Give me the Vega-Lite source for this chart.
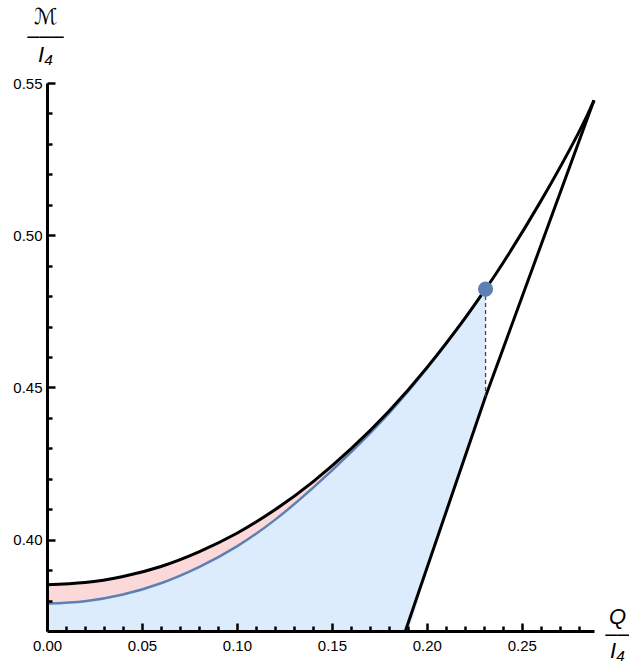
{
  "$schema": "https://vega.github.io/schema/vega-lite/v6.json",
  "width": 547,
  "height": 548,
  "autosize": {"type": "none"},
  "padding": {"left": 47, "top": 83, "right": 35, "bottom": 32},
  "background": "white",
  "config": {"view": {"stroke": null}},
  "datasets": {
    "bluefill": [
      {"x": 0, "y": 0.379, "y2": 0.37},
      {"x": 0.02, "y": 0.3798, "y2": 0.37},
      {"x": 0.04, "y": 0.382, "y2": 0.37},
      {"x": 0.06, "y": 0.3857, "y2": 0.37},
      {"x": 0.08, "y": 0.391, "y2": 0.37},
      {"x": 0.1, "y": 0.3978, "y2": 0.37},
      {"x": 0.12, "y": 0.4065, "y2": 0.37},
      {"x": 0.14, "y": 0.417, "y2": 0.37},
      {"x": 0.16, "y": 0.4287, "y2": 0.37},
      {"x": 0.18, "y": 0.4415, "y2": 0.37},
      {"x": 0.1887, "y": 0.4479, "y2": 0.37},
      {"x": 0.2, "y": 0.4562, "y2": 0.3906},
      {"x": 0.22, "y": 0.4726, "y2": 0.4271},
      {"x": 0.2309, "y": 0.4823, "y2": 0.447}
    ],
    "pink": [
      {"x": 0, "y": 0.379, "y2": 0.3852},
      {"x": 0.02, "y": 0.3798, "y2": 0.3859},
      {"x": 0.04, "y": 0.382, "y2": 0.3879},
      {"x": 0.06, "y": 0.3857, "y2": 0.3912},
      {"x": 0.08, "y": 0.391, "y2": 0.396},
      {"x": 0.1, "y": 0.3978, "y2": 0.4021},
      {"x": 0.12, "y": 0.4065, "y2": 0.4098},
      {"x": 0.14, "y": 0.417, "y2": 0.419},
      {"x": 0.16, "y": 0.4287, "y2": 0.4298},
      {"x": 0.18, "y": 0.4415, "y2": 0.4422},
      {"x": 0.2, "y": 0.4562, "y2": 0.4565},
      {"x": 0.22, "y": 0.4726, "y2": 0.4727}
    ],
    "lower": [
      {"x": 0, "y": 0.379},
      {"x": 0.02, "y": 0.3798},
      {"x": 0.04, "y": 0.382},
      {"x": 0.06, "y": 0.3857},
      {"x": 0.08, "y": 0.391},
      {"x": 0.1, "y": 0.3978},
      {"x": 0.12, "y": 0.4065},
      {"x": 0.14, "y": 0.417},
      {"x": 0.16, "y": 0.4287},
      {"x": 0.18, "y": 0.4415},
      {"x": 0.2, "y": 0.4562},
      {"x": 0.22, "y": 0.4726},
      {"x": 0.2309, "y": 0.4823}
    ],
    "upper": [
      {"x": 0, "y": 0.3852},
      {"x": 0.02, "y": 0.3859},
      {"x": 0.04, "y": 0.3879},
      {"x": 0.06, "y": 0.3912},
      {"x": 0.08, "y": 0.396},
      {"x": 0.1, "y": 0.4021},
      {"x": 0.12, "y": 0.4098},
      {"x": 0.14, "y": 0.419},
      {"x": 0.16, "y": 0.4298},
      {"x": 0.18, "y": 0.4422},
      {"x": 0.2, "y": 0.4565},
      {"x": 0.22, "y": 0.4727},
      {"x": 0.2309, "y": 0.4823},
      {"x": 0.24, "y": 0.4908},
      {"x": 0.26, "y": 0.5112},
      {"x": 0.28, "y": 0.5338},
      {"x": 0.288, "y": 0.5443}
    ],
    "right": [
      {"x": 0.1887, "y": 0.37},
      {"x": 0.2309, "y": 0.447},
      {"x": 0.288, "y": 0.5443}
    ],
    "dot": [
      {"x": 0.2309, "y": 0.4823, "y2": 0.447}
    ]
  },
  "encoding": {
    "x": {
      "field": "x",
      "type": "quantitative",
      "scale": {"domain": [0, 0.288], "nice": false, "zero": false},
      "axis": {
        "zindex": 1,
        "grid": false,
        "values": [0, 0.01, 0.02, 0.03, 0.04, 0.05, 0.06, 0.07, 0.08, 0.09, 0.1, 0.11, 0.12, 0.13, 0.14, 0.15, 0.16, 0.17, 0.18, 0.19, 0.2, 0.21, 0.22, 0.23, 0.24, 0.25, 0.26, 0.27, 0.28],
        "domainColor": "black",
        "domainWidth": 3,
        "tickColor": "black",
        "tickWidth": 2.5,
        "tickSize": {"condition": {"test": "round(datum.value*100) % 5 === 0", "value": -8}, "value": -5},
        "labelExpr": "round(datum.value*100) % 5 === 0 ? format(datum.value, '.2f') : ''",
        "labelFont": "Liberation Sans",
        "labelFontSize": 15,
        "labelColor": "black",
        "labelPadding": 15,
        "labelFlush": false,
        "labelOverlap": false,
        "title": ["Q", "––", "I₄"],
        "titleFont": "Liberation Sans, DejaVu Sans",
        "titleFontStyle": "italic",
        "titleFontWeight": "normal",
        "titleFontSize": 22,
        "titleColor": "black",
        "titleAngle": 0,
        "titleAlign": "center",
        "titleBaseline": "alphabetic",
        "titleLineHeight": 17,
        "titleX": 570,
        "titleY": -8
      }
    },
    "y": {
      "field": "y",
      "type": "quantitative",
      "scale": {"domain": [0.37, 0.55], "nice": false, "zero": false},
      "axis": {
        "zindex": 1,
        "grid": false,
        "values": [0.38, 0.39, 0.4, 0.41, 0.42, 0.43, 0.44, 0.45, 0.46, 0.47, 0.48, 0.49, 0.5, 0.51, 0.52, 0.53, 0.54, 0.55],
        "domainColor": "black",
        "domainWidth": 3,
        "tickColor": "black",
        "tickWidth": 2.5,
        "tickSize": {"condition": {"test": "round(datum.value*100) % 5 === 0", "value": -8}, "value": -5},
        "labelExpr": "round(datum.value*100) % 5 === 0 ? format(datum.value, '.2f') : ''",
        "labelFont": "Liberation Sans",
        "labelFontSize": 15,
        "labelColor": "black",
        "labelPadding": 13,
        "labelFlush": false,
        "labelOverlap": false,
        "title": ["ℳ", "–––", "I₄"],
        "titleFont": "Liberation Sans, DejaVu Sans",
        "titleFontStyle": "italic",
        "titleFontWeight": "normal",
        "titleFontSize": 22,
        "titleColor": "black",
        "titleAngle": 0,
        "titleAlign": "center",
        "titleBaseline": "alphabetic",
        "titleLineHeight": 19,
        "titleX": -2,
        "titleY": -60
      }
    }
  },
  "layer": [
    {
      "data": {"name": "bluefill"},
      "mark": {"type": "area", "color": "#dcecfc", "interpolate": "monotone", "opacity": 1},
      "encoding": {"y2": {"field": "y2"}}
    },
    {
      "data": {"name": "pink"},
      "mark": {"type": "area", "color": "#fcd9d9", "interpolate": "natural", "opacity": 1},
      "encoding": {"y2": {"field": "y2"}}
    },
    {
      "data": {"name": "lower"},
      "mark": {"type": "line", "color": "#5d80b4", "strokeWidth": 2.5, "interpolate": "natural"}
    },
    {
      "data": {"name": "upper"},
      "mark": {"type": "line", "color": "black", "strokeWidth": 3, "interpolate": "natural"}
    },
    {
      "data": {"name": "right"},
      "mark": {"type": "line", "color": "black", "strokeWidth": 3}
    },
    {
      "data": {"name": "dot"},
      "mark": {"type": "rule", "color": "#3b4660", "strokeWidth": 1.3, "strokeDash": [4, 3]},
      "encoding": {"y2": {"field": "y2"}}
    },
    {
      "data": {"name": "dot"},
      "mark": {"type": "circle", "color": "#5d80b4", "opacity": 1, "size": 230}
    }
  ]
}
